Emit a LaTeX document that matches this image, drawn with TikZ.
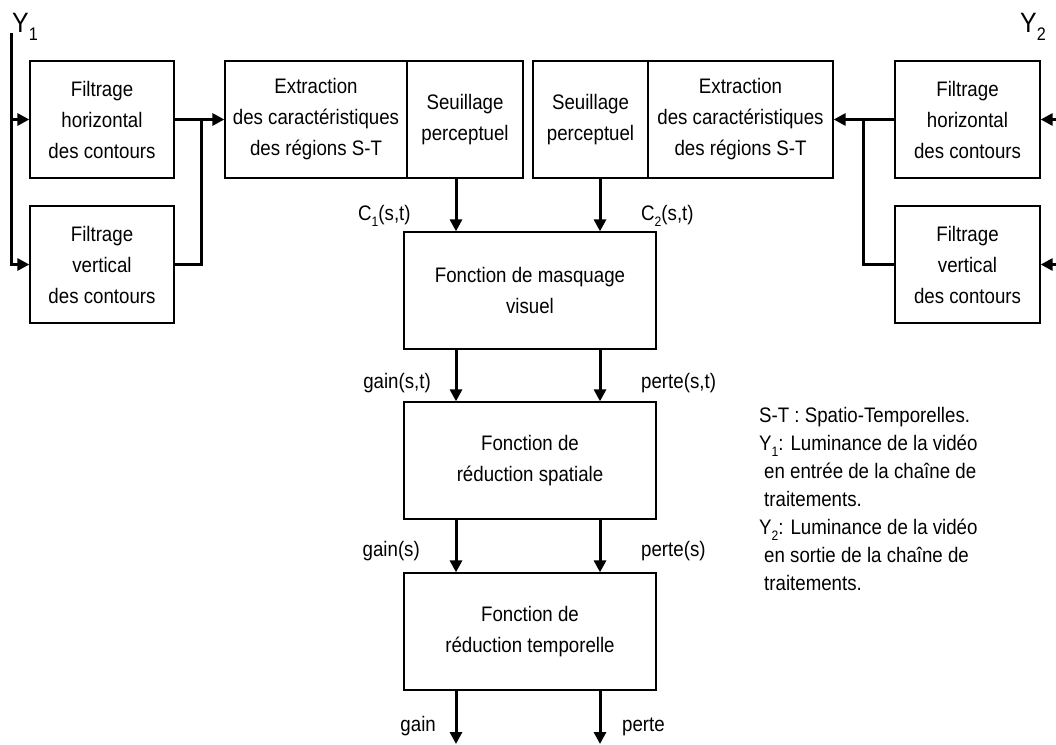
\documentclass[tikz,border=0pt]{standalone}
\usepackage{graphicx}
\usepackage{fontspec}
\setmainfont{Liberation Sans}[FakeStretch=0.89]
\usetikzlibrary{arrows.meta}
\newcommand{\ind}[1]{\raisebox{-0.3em}{\scalebox{0.65}{#1}}}

\begin{document}
\begin{tikzpicture}[x=1pt, y=-1pt, font=\fontsize{21}{31}\selectfont,
	bloc/.style={draw, line width=1.3pt, align=center, inner sep=0pt, minimum height=117pt},
	fleche/.style={line width=3pt, -{Triangle[length=12pt,width=12pt]}},
	ligne/.style={line width=3pt},
	grand/.style={font=\fontsize{28}{30}\selectfont, inner sep=0pt}]
	\useasboundingbox[fill=white] (0,0) rectangle (1056,744);
	% blocs du haut
	\node[bloc, minimum width=144pt] (fhg) at (102,119.5) {Filtrage\\horizontal\\des contours};
	\node[bloc, minimum width=144pt] (fvg) at (102,264.5) {Filtrage\\vertical\\des contours};
	\node[bloc, minimum width=182pt] (extA) at (316,119.5) {Extraction\\des caractéristiques\\des régions S-T};
	\node[bloc, minimum width=116pt] (seuilA) at (465,119.5) {Seuillage\\perceptuel};
	\node[bloc, minimum width=115pt] (seuilB) at (590.5,119.5) {Seuillage\\perceptuel};
	\node[bloc, minimum width=185pt] (extB) at (740.5,119.5) {Extraction\\des caractéristiques\\des régions S-T};
	\node[bloc, minimum width=145pt] (fhd) at (967.5,119.5) {Filtrage\\horizontal\\des contours};
	\node[bloc, minimum width=145pt] (fvd) at (967.5,264.5) {Filtrage\\vertical\\des contours};
	% chaine centrale
	\node[bloc, minimum width=252pt] (masq) at (530,290.5) {Fonction de masquage\\visuel};
	\node[bloc, minimum width=252pt] (spat) at (530,460.5) {Fonction de\\réduction spatiale};
	\node[bloc, minimum width=252pt] (temp) at (530,631.5) {Fonction de\\réduction temporelle};
	\coordinate (y1) at (11,33);
	\coordinate (jg) at (201,119.5);
	\coordinate (jd) at (863,119.5);
	\coordinate (y2h) at (1056,119.5);
	\coordinate (y2v) at (1056,264.5);
	\coordinate (cg) at (456,744); % colonne gain
	\coordinate (cp) at (600,744); % colonne perte
	% entree Y1
	\draw[fleche] (y1) |- (fvg.west);
	\draw[fleche] (y1 |- fhg.west) -- (fhg.west);
	\draw[fleche] (fhg.east) -- (extA.west);
	\draw[ligne] (fvg.east) -| (jg);
	% entree Y2
	\draw[fleche] (y2h) -- (fhd.east);
	\draw[fleche] (y2v) -- (fvd.east);
	\draw[fleche] (fhd.west) -- (extB.east);
	\draw[ligne] (fvd.west) -| (jd);
	% fleches verticales
	\draw[fleche] (seuilA.south -| cg) -- (masq.north -| cg);
	\draw[fleche] (seuilB.south -| cp) -- (masq.north -| cp);
	\draw[fleche] (masq.south -| cg) -- (spat.north -| cg);
	\draw[fleche] (masq.south -| cp) -- (spat.north -| cp);
	\draw[fleche] (spat.south -| cg) -- (temp.north -| cg);
	\draw[fleche] (spat.south -| cp) -- (temp.north -| cp);
	\draw[fleche] (temp.south -| cg) -- (cg);
	\draw[fleche] (temp.south -| cp) -- (cp);
	% etiquettes
	\node[grand, anchor=base west] (ly1) at (12,32) {Y\ind{1}};
	\node[grand, anchor=base west] (ly2) at (1020,32) {Y\ind{2}};
	\node[inner sep=0pt, anchor=base west] (c1) at (358,220) {C\ind{1}(s,t)};
	\node[inner sep=0pt, anchor=base west] (c2) at (641,220) {C\ind{2}(s,t)};
	\node[inner sep=0pt, anchor=base east] (gst) at (431,388) {gain(s,t)};
	\node[inner sep=0pt, anchor=base west] (pst) at (641,388) {perte(s,t)};
	\node[inner sep=0pt, anchor=base east] (gs) at (420,556) {gain(s)};
	\node[inner sep=0pt, anchor=base west] (ps) at (641,556) {perte(s)};
	\node[inner sep=0pt, anchor=base east] (g) at (436,731) {gain};
	\node[inner sep=0pt, anchor=base west] (p) at (622,731) {perte};
	% legende
	\node[inner sep=0pt, anchor=base west, align=left, font=\fontsize{21}{28}\selectfont] (legende) at (759,590)
	{S-T : Spatio-Temporelles.\\
	Y\ind{1}: Luminance de la vidéo\\
	\hspace*{5pt}en entrée de la chaîne de\\
	\hspace*{5pt}traitements.\\
	Y\ind{2}: Luminance de la vidéo\\
	\hspace*{5pt}en sortie de la chaîne de\\
	\hspace*{5pt}traitements.};
\end{tikzpicture}
\end{document}
